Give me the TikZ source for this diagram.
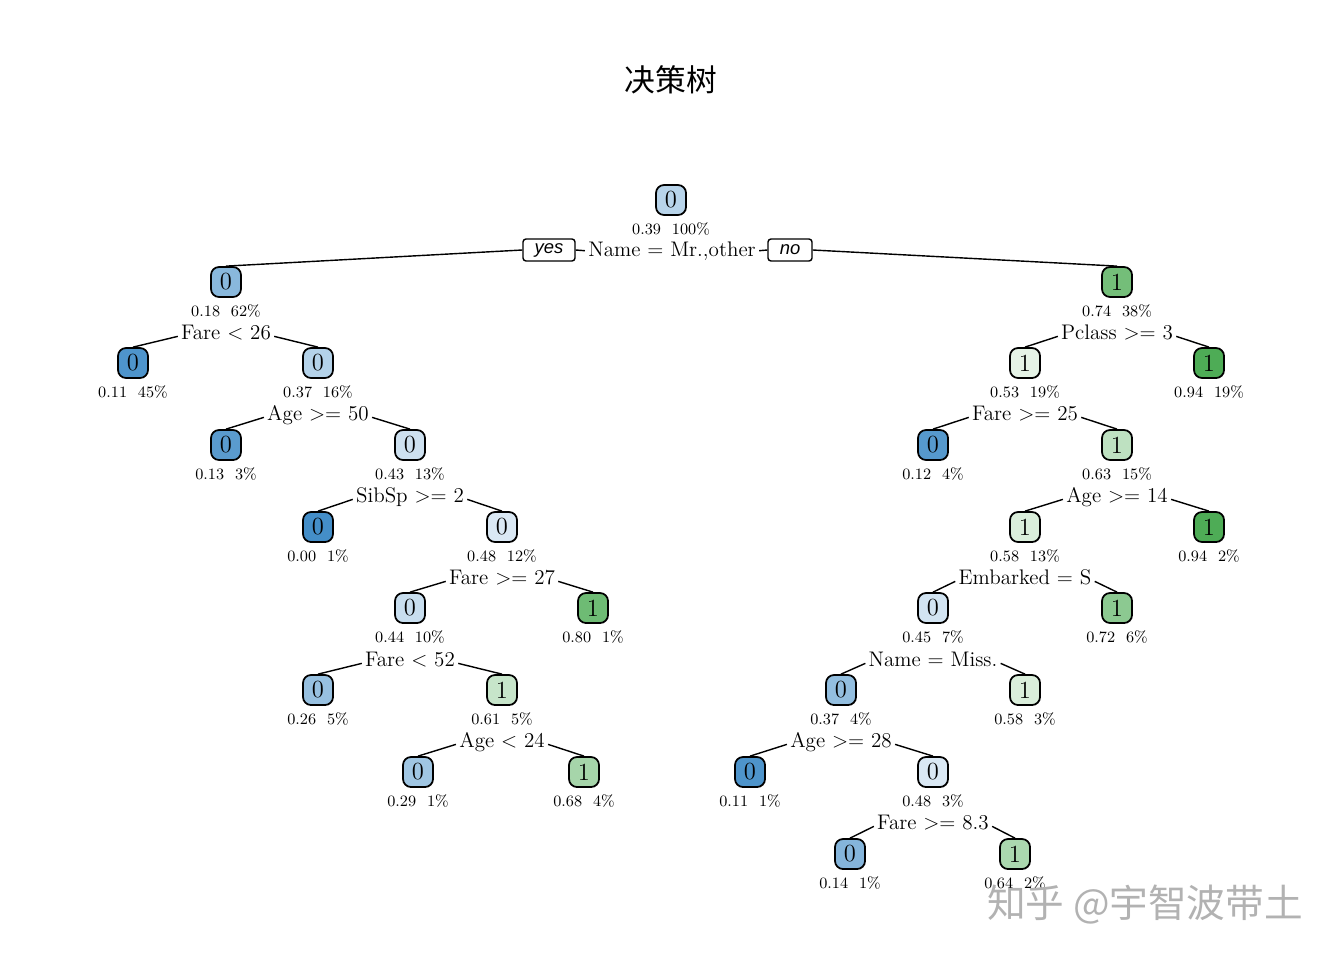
\documentclass[tikz,border=0pt]{standalone}
\usepackage{fontspec}
\newfontfamily\cjk{Noto Sans CJK SC}
\newfontfamily\yesfont{Liberation Sans}
\definecolor{tb}{HTML}{3A88C5}
\definecolor{tg}{HTML}{45A84D}
\tikzset{
  leafbox/.style={draw, line width=1pt, rounded corners=0.16cm, minimum width=0.6cm, minimum height=0.6cm, inner sep=0pt, font=\fontsize{14}{14}\selectfont},
  stat/.style={inner sep=0pt, font=\fontsize{9}{9}\selectfont},
  split/.style={inner sep=1.5pt, anchor=base, font=\fontsize{12}{12}\selectfont},
  yesno/.style={draw, fill=white, rounded corners=0.06cm, minimum height=0.44cm, inner sep=0pt, font=\yesfont\itshape\fontsize{10.5}{10.5}\selectfont}
}

\begin{document}
\begin{tikzpicture}[thick, x=0.02cm, y=-0.02cm]
  \useasboundingbox (0,0) rectangle (1344,960);
  \node[font=\cjk\fontsize{17.5}{17.5}\selectfont] (title) at (671,80) {决策树};
  \foreach \n/\x/\y/\f/\d/\v/\q in {
      n1/671/200/tb!36/0/0.39/100, n2/226/282/tb!60/0/0.18/62, n3/1117/282/tg!75/1/0.74/38,
      n4/133/363/tb!90/0/0.11/45, n5/318/363/tb!38/0/0.37/16, n6/1025/363/tg!14/1/0.53/19,
      n7/1209/363/tg!95/1/0.94/19, n8/226/445/tb!84/0/0.13/3, n9/410/445/tb!25/0/0.43/13,
      n10/933/445/tb!86/0/0.12/4, n11/1117/445/tg!35/1/0.63/15, n12/318/527/tb!95/0/0.00/1,
      n13/502/527/tb!19/0/0.48/12, n14/1025/527/tg!20/1/0.58/13, n15/1209/527/tg!95/1/0.94/2,
      n16/410/608/tb!28/0/0.44/10, n17/593/608/tg!78/1/0.80/1, n18/933/608/tb!23/0/0.45/7,
      n19/1117/608/tg!62/1/0.72/6, n20/318/690/tb!53/0/0.26/5, n21/502/690/tg!30/1/0.61/5,
      n22/841/690/tb!55/0/0.37/4, n23/1025/690/tg!20/1/0.58/3, n24/418/772/tb!48/0/0.29/1,
      n25/584/772/tg!48/1/0.68/4, n26/750/772/tb!90/0/0.11/1, n27/933/772/tb!19/0/0.48/3,
      n28/850/854/tb!62/0/0.14/1, n29/1015/854/tg!45/1/0.64/2} {
    \node[leafbox, fill=\f!white] (\n) at (\x,\y) {\d};
    \node[stat] (t\n) at (\x,\y+29) {\v\ \ \q\%};
  }
  \foreach \s/\x/\y/\t in {
      s1/672/249/{Name = Mr.,other}, s2/226/332/{Fare < 26}, s3/1117/332/{Pclass >= 3},
      s5/318/413/{Age >= 50}, s6/1025/413/{Fare >= 25}, s9/410/495/{SibSp >= 2},
      s11/1117/495/{Age >= 14}, s13/502/577/{Fare >= 27}, s14/1025/577/{Embarked = S},
      s16/410/659/{Fare < 52}, s18/933/659/{Name = Miss.}, s21/502/740/{Age < 24},
      s22/841/740/{Age >= 28}, s27/933/822/{Fare >= 8.3}}
    \node[split] (\s) at (\x,\y+7) {\t};
  \foreach \s/\l/\r in {s2/n4/n5, s3/n6/n7, s5/n8/n9, s6/n10/n11, s9/n12/n13, s11/n14/n15,
      s13/n16/n17, s14/n18/n19, s16/n20/n21, s18/n22/n23, s21/n24/n25, s22/n26/n27, s27/n28/n29}
    \draw ([yshift=1.5pt]\s.base west) -- (\l.north) ([yshift=1.5pt]\s.base east) -- (\r.north);
  \node[yesno, minimum width=1.04cm] (yes) at (549,250) {yes};
  \node[yesno, minimum width=0.88cm] (no) at (790,250) {no};
  \draw (yes.west) -- (n2.north) (yes.east) -- (s1.west) (s1.east) -- (no.west) (no.east) -- (n3.north);
  \node[font=\cjk\fontsize{22}{22}\selectfont, text=black!30] (mark) at (1145,905) {知乎 @宇智波带土};
\end{tikzpicture}
\end{document}
